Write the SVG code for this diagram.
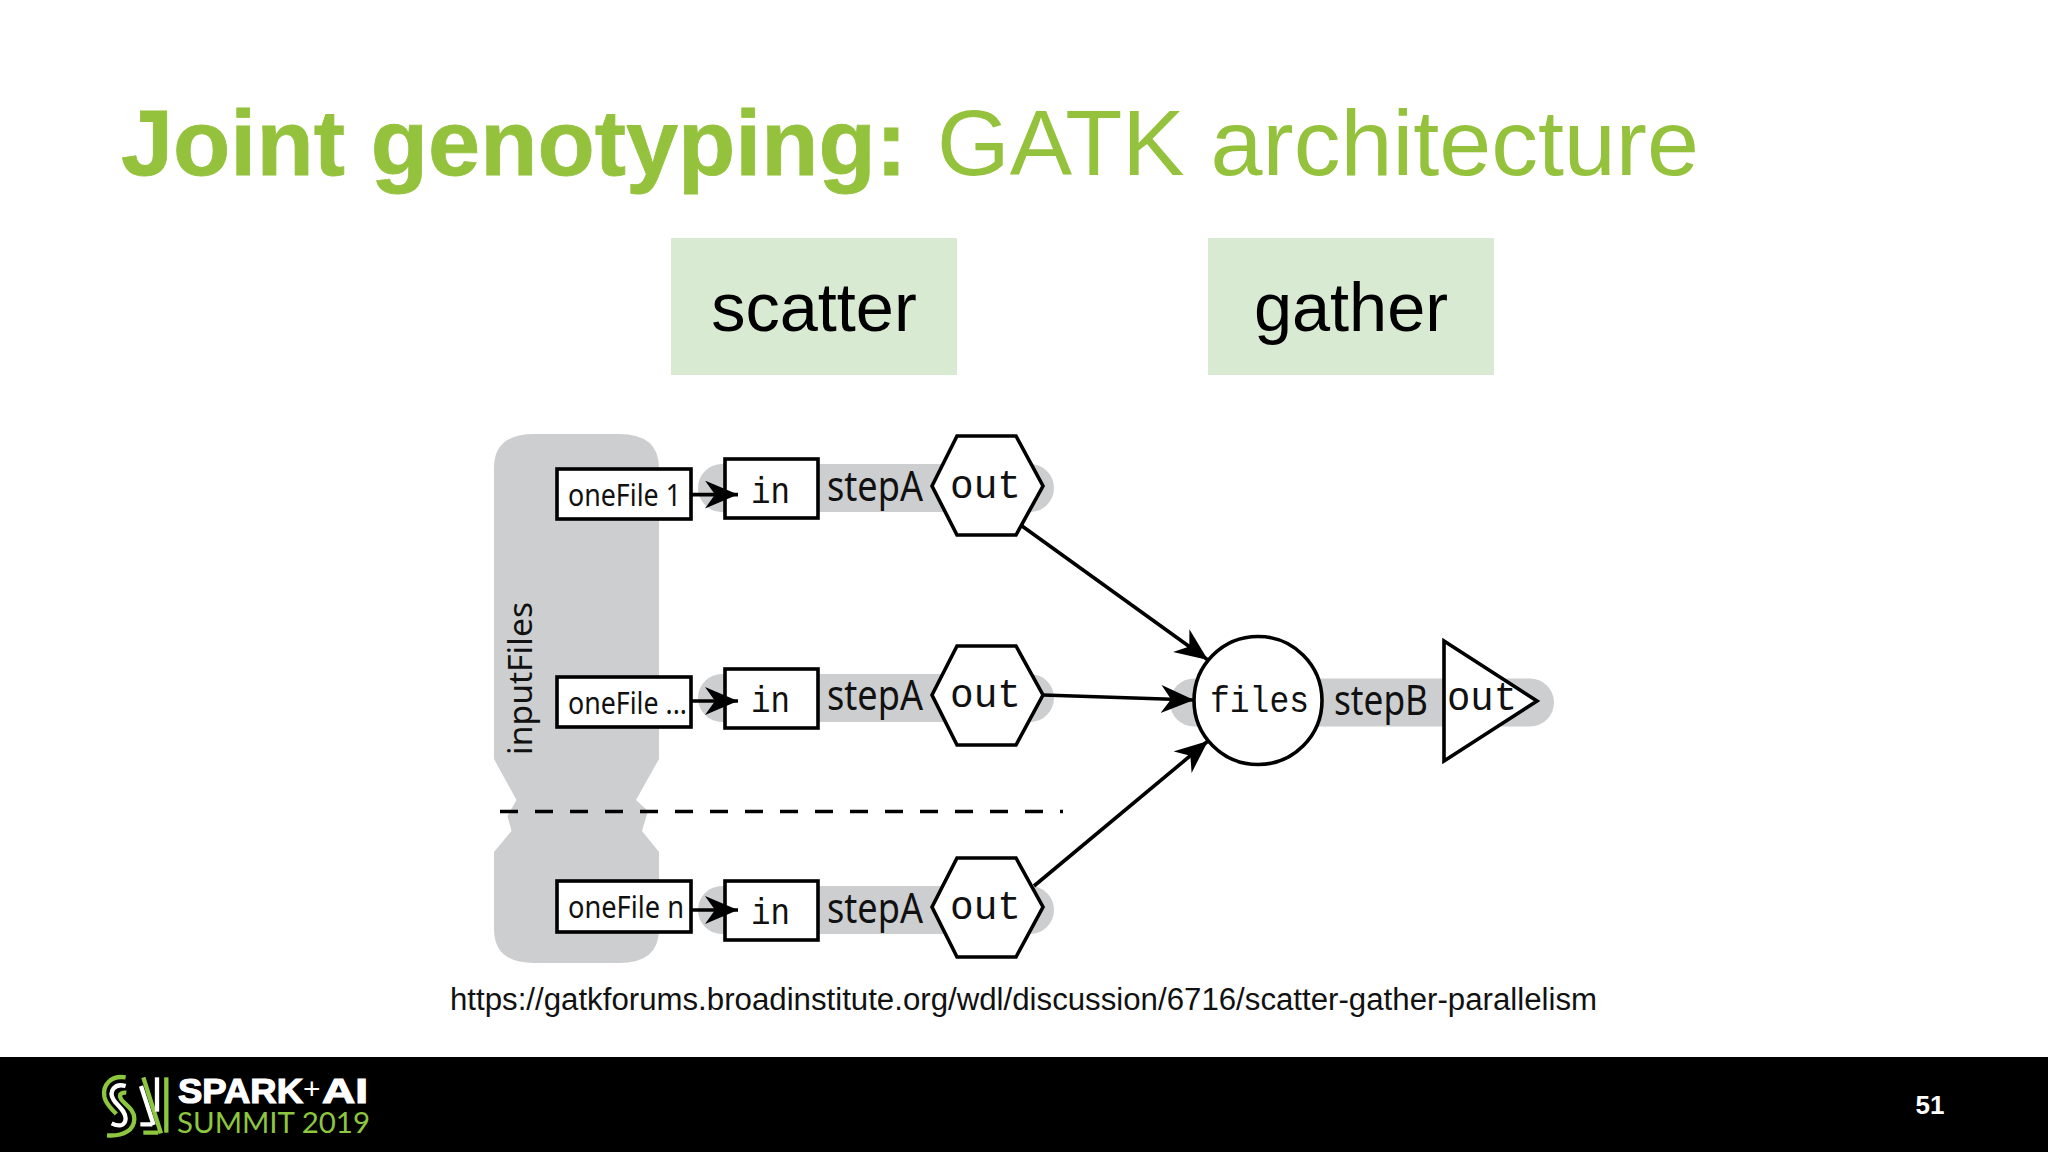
<svg xmlns="http://www.w3.org/2000/svg" width="2048" height="1152" viewBox="0 0 2048 1152">
<style>
.band{fill:#cdced0}
.box{fill:#fff;stroke:#000;stroke-width:3.6}
.shape{fill:#fff;stroke:#000;stroke-width:3.6}
.cond{font-family:"Noto Sans","Open Sans",sans-serif;fill:#111}
.mono{font-family:"Liberation Mono","DejaVu Sans Mono",monospace;fill:#111}
.sans{font-family:"Liberation Sans",Arial,sans-serif}
.conn{fill:none;stroke:#000;stroke-width:3.6}
.head{fill:#000}
.f30{font-size:30px}
.f42{font-size:41px}
.m36{font-size:36px}
.m40{font-size:40px}
</style>
<defs>
<marker id="arrow" markerUnits="userSpaceOnUse" markerWidth="36" markerHeight="30" refX="33" refY="14" orient="auto">
<path class="head" d="M0 0L33 14L0 28L10 14Z"/>
</marker>
</defs>
<rect width="2048" height="1152" fill="#fff"/>
<g id="title">
<text class="sans" x="121" y="175" font-size="93" font-weight="700" fill="#94c23d" stroke="#94c23d" stroke-width=".8" textLength="786" lengthAdjust="spacingAndGlyphs">Joint genotyping:</text>
<text class="sans" x="937" y="175" font-size="93" fill="#94c23d" textLength="762" lengthAdjust="spacingAndGlyphs">GATK architecture</text>
</g>
<g id="scatter">
<rect x="671" y="238" width="286" height="137" fill="#d9ead3"/>
<text class="sans" x="814" y="331" font-size="68.500" text-anchor="middle" fill="#000">scatter</text>
</g>
<g id="gather">
<rect x="1208" y="238" width="286" height="137" fill="#d9ead3"/>
<text class="sans" x="1351" y="331" font-size="68.500" text-anchor="middle" fill="#000">gather</text>
</g>
<g id="inputFiles">
<path class="band" d="M494 468Q494 434 534 434H619Q659 434 659 468V759L636 800L648 811L642 831L659 852V929Q659 963 619 963H534Q494 963 494 929V852L511.500 831L507.500 816L516.500 800L494 759Z"/>
<text class="cond" transform="translate(532 755) rotate(-90)" font-size="33" textLength="153" lengthAdjust="spacingAndGlyphs">inputFiles</text>
</g>
<g id="bands">
<rect class="band" x="698" y="464" width="356" height="48" rx="24"/>
<rect class="band" x="698" y="674" width="356" height="48" rx="24"/>
<rect class="band" x="698" y="886" width="356" height="48" rx="24"/>
<rect class="band" x="1170" y="678.500" width="384" height="48" rx="24"/>
</g>
<g id="file1"><rect class="box" x="557" y="469" width="134" height="50"/><text class="cond f30" x="568" y="506" textLength="113" lengthAdjust="spacingAndGlyphs">oneFile 1</text></g>
<g id="file2"><rect class="box" x="557" y="677" width="134" height="50"/><text class="cond f30" x="568" y="714" textLength="119" lengthAdjust="spacingAndGlyphs">oneFile ...</text></g>
<g id="filen"><rect class="box" x="557" y="881" width="134" height="51"/><text class="cond f30" x="568" y="918" textLength="116" lengthAdjust="spacingAndGlyphs">oneFile n</text></g>
<g id="step1">
<rect class="box" x="725" y="459" width="93" height="59"/><text class="mono m36" x="751" y="503" textLength="39" lengthAdjust="spacingAndGlyphs">in</text>
<text class="cond f42" x="827" y="501" textLength="96" lengthAdjust="spacingAndGlyphs">stepA</text>
</g>
<g id="step2">
<rect class="box" x="725" y="669" width="93" height="59"/><text class="mono m36" x="751" y="712" textLength="39" lengthAdjust="spacingAndGlyphs">in</text>
<text class="cond f42" x="827" y="710" textLength="96" lengthAdjust="spacingAndGlyphs">stepA</text>
</g>
<g id="step3">
<rect class="box" x="725" y="881" width="93" height="59"/><text class="mono m36" x="751" y="924" textLength="39" lengthAdjust="spacingAndGlyphs">in</text>
<text class="cond f42" x="827" y="923" textLength="96" lengthAdjust="spacingAndGlyphs">stepA</text>
</g>
<g id="out1"><path class="shape" d="M932 486L957 436H1016L1043 486L1016 535H957Z"/><text class="mono m40" x="950" y="498" textLength="71" lengthAdjust="spacingAndGlyphs">out</text></g>
<g id="out2"><path class="shape" d="M932 695L957 646H1016L1043 695L1016 745H957Z"/><text class="mono m40" x="950" y="707" textLength="71" lengthAdjust="spacingAndGlyphs">out</text></g>
<g id="out3"><path class="shape" d="M932 907L957 858H1016L1043 907L1016 957H957Z"/><text class="mono m40" x="950" y="919" textLength="71" lengthAdjust="spacingAndGlyphs">out</text></g>
<g id="files"><circle class="shape" cx="1258" cy="700.500" r="64"/><text class="mono m36" x="1210" y="712" textLength="99" lengthAdjust="spacingAndGlyphs">files</text></g>
<g id="stepB"><text class="cond f42" x="1334" y="715" textLength="94" lengthAdjust="spacingAndGlyphs">stepB</text></g>
<g id="outB"><path class="shape" d="M1444 641L1537 701L1444 761Z"/><text class="mono m40" x="1447" y="710" textLength="70" lengthAdjust="spacingAndGlyphs">out</text></g>
<g id="connectors">
<path class="conn" marker-end="url(#arrow)" d="M691 494.600H738"/>
<path class="conn" marker-end="url(#arrow)" d="M691 701H738"/>
<path class="conn" marker-end="url(#arrow)" d="M691 910H738"/>
<path class="conn" marker-end="url(#arrow)" d="M1022 526L1208 660"/>
<path class="conn" marker-end="url(#arrow)" d="M1043 695L1194 700"/>
<path class="conn" marker-end="url(#arrow)" d="M1034 886L1208 741"/>
<path d="M500 811.500H1063" fill="none" stroke="#000" stroke-width="3.600" stroke-dasharray="18 17"/>
</g>
<g id="url"><text class="sans" x="450" y="1010" font-size="31" fill="#111" textLength="1147" lengthAdjust="spacingAndGlyphs">https://gatkforums.broadinstitute.org/wdl/discussion/6716/scatter-gather-parallelism</text></g>
<g id="footer">
<rect y="1057" width="2048" height="95" fill="#000"/>
<g id="logo" transform="translate(95 1070) scale(.3333)" fill="none" stroke-width="13">
<path stroke="#8dc63f" d="M92 22C48 15 22 45 28 80C33 105 52 118 64 132"/>
<path stroke="#fff" d="M92 48C58 38 40 65 56 90C68 108 92 122 92 146C90 170 70 170 50 160"/>
<path stroke="#8dc63f" d="M36 196C88 200 118 178 118 146C118 118 92 105 80 90C70 75 76 66 94 68"/>
<path stroke="#fff" d="M138 48L176 165M136 163H172"/>
<path stroke="#8dc63f" d="M145 22L198 190M145 188H190"/>
<path stroke="#fff" d="M186 22V125"/>
<path stroke="#8dc63f" d="M214 22V188"/>
</g>
<text class="sans" font-size="35" font-weight="700" fill="#fff" stroke="#fff" stroke-width="1.200"><tspan x="178" y="1103" textLength="125" lengthAdjust="spacingAndGlyphs">SPARK</tspan></text>
<text class="sans" x="303" y="1099" font-size="30" fill="#fff">+</text>
<text class="sans" x="322" y="1103" font-size="35" font-weight="700" fill="#fff" stroke="#fff" stroke-width="1.200" textLength="46" lengthAdjust="spacingAndGlyphs">AI</text>
<text font-family="Lato,'Open Sans',sans-serif" x="177" y="1133" font-size="29" fill="#8dc63f" textLength="193" lengthAdjust="spacingAndGlyphs">SUMMIT 2019</text>
<text class="sans" x="1930" y="1114" font-size="26" font-weight="700" fill="#fff" text-anchor="middle">51</text>
</g>
</svg>
